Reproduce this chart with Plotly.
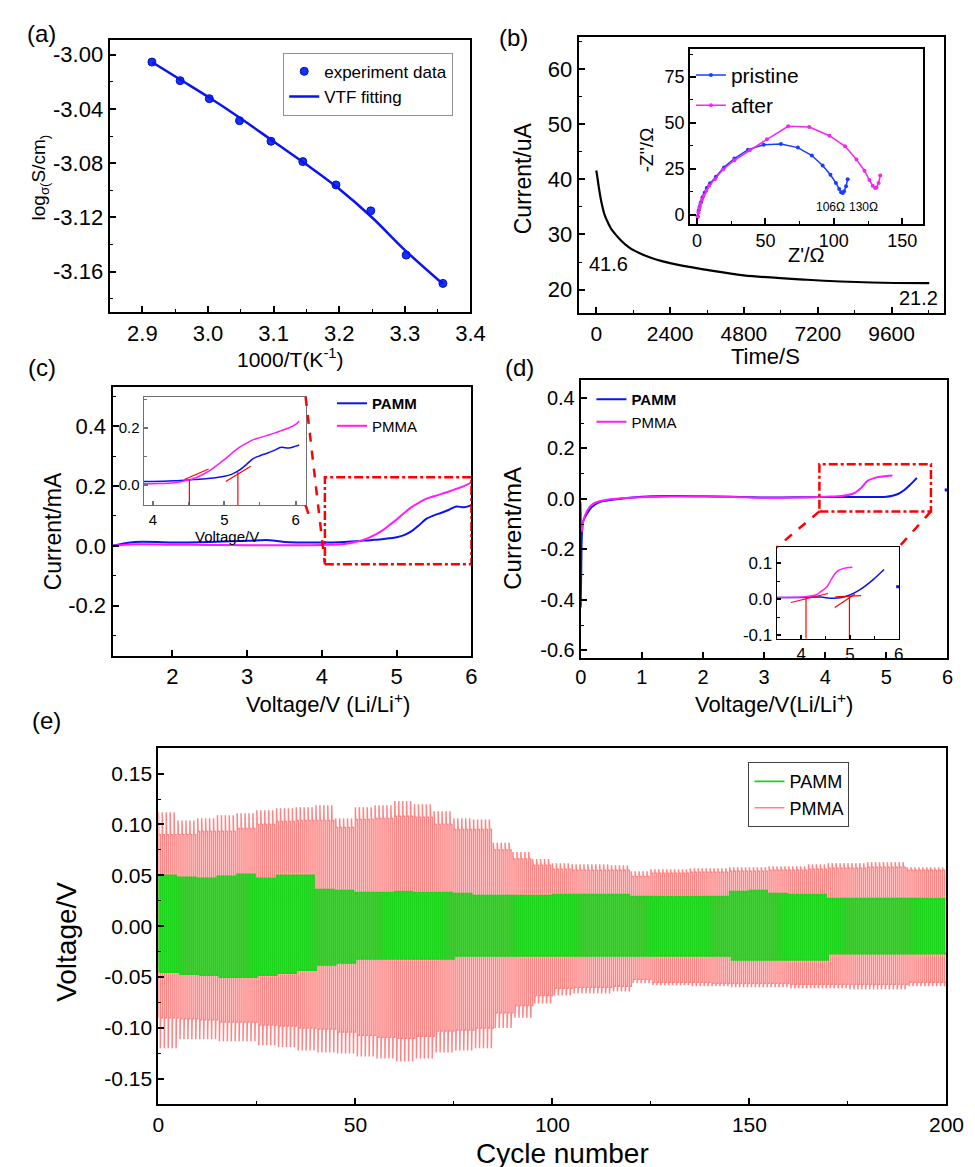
import plotly.graph_objects as go

FONT = "Liberation Sans, Arial, sans-serif"
W, H = 975, 1167

# ---------------- (a) conductivity vs 1000/T ----------------
a_inv_T = [2.9145, 2.9575, 3.002, 3.048, 3.096, 3.1445, 3.195, 3.248, 3.302, 3.358]
a_log_sigma = [-3.0054, -3.0191, -3.0324, -3.0486, -3.0638, -3.0788, -3.0960, -3.1151, -3.1477, -3.1686]
a_fit_inv_T = [2.915, 2.96, 3.0, 3.05, 3.1, 3.15, 3.2, 3.25, 3.3, 3.358]
a_fit_log_sigma = [-3.0055, -3.019, -3.031, -3.047, -3.064, -3.081, -3.099, -3.120, -3.144, -3.169]
a_xticks = [2.9, 3.0, 3.1, 3.2, 3.3, 3.4]
a_xticktext = ["2.9", "3.0", "3.1", "3.2", "3.3", "3.4"]
a_yticks = [-3.16, -3.12, -3.08, -3.04, -3.00]
a_yticktext = ["-3.16", "-3.12", "-3.08", "-3.04", "-3.00"]

# ---------------- (b) chronoamperometry + EIS inset ----------------
b_time = [0, 21, 84, 158, 263, 400, 526, 1053, 1580, 2400, 3685, 4790, 6845, 8950, 10825]
b_current = [41.6, 40.9, 38.5, 36.1, 33.7, 31.9, 30.7, 27.7, 26.2, 24.8, 23.5, 22.6, 21.8, 21.3, 21.2]
b_xticks = [0, 2400, 4800, 7200, 9600]
b_yticks = [20, 30, 40, 50, 60]
b_pristine_re = [0.5, 1.2, 1.9, 2.9, 4.0, 5.5, 7.1, 9.5, 13.8, 19.7, 27.3, 37.3, 48.7, 61.3, 73.7,
                 83.9, 91.8, 97.5, 101.5, 103.9, 105.3, 106.5, 107.5, 108.9, 110.1]
b_pristine_im = [-0.9, 2.2, 4.3, 6.7, 9.4, 11.9, 14.5, 17.0, 20.6, 25.7, 30.5, 35.4, 38.1, 38.5, 36.5,
                 32.2, 26.8, 21.7, 17.2, 13.9, 12.1, 11.7, 12.7, 15.4, 19.3]
b_after_re = [0.5, 1.0, 1.7, 2.4, 3.6, 4.8, 6.7, 8.8, 13.1, 19.0, 27.3, 38.5, 51.1, 66.6, 82.0,
              96.8, 108.2, 116.5, 122.4, 126.0, 128.4, 130.1, 131.2, 132.7, 133.9]
b_after_im = [-1.4, 1.3, 3.6, 5.8, 8.0, 10.3, 13.0, 15.7, 19.3, 24.6, 29.6, 35.1, 41.0, 48.1, 47.7,
              43.0, 37.2, 30.0, 23.9, 18.8, 15.7, 14.5, 14.8, 17.2, 21.3]
b_inset_xticks = [0, 50, 100, 150]
b_inset_yticks = [0, 25, 50, 75]

# ---------------- (c) LSV ----------------
c_voltage = [1.2, 1.5, 2.0, 2.5, 3.0, 3.3, 3.5, 4.0, 4.3, 4.5, 4.6, 4.7, 4.8, 4.9, 5.0, 5.1, 5.2,
             5.3, 5.4, 5.5, 5.6, 5.7, 5.8, 5.9, 6.0, 6.05]
c_pamm = [0.0, 0.013, 0.011, 0.013, 0.017, 0.019, 0.013, 0.011, 0.013, 0.016, 0.018, 0.020, 0.022,
          0.025, 0.029, 0.036, 0.049, 0.069, 0.091, 0.102, 0.111, 0.121, 0.132, 0.129, 0.136, 0.140]
c_pmma = [0.0, 0.005, 0.004, 0.003, 0.002, 0.002, 0.002, 0.003, 0.006, 0.016, 0.024, 0.036, 0.050,
          0.069, 0.088, 0.110, 0.130, 0.145, 0.158, 0.166, 0.174, 0.182, 0.191, 0.200, 0.213, 0.225]
c_xticks = [2, 3, 4, 5, 6]
c_yticks = [-0.2, 0.0, 0.2, 0.4]
c_yticktext = ["-0.2", "0.0", "0.2", "0.4"]
c_inset_xticks = [4, 5, 6]
c_inset_yticks = [0.0, 0.2]
c_inset_yticktext = ["0.0", "0.2"]
c_onset_pmma_tan_x = [4.44, 4.78]
c_onset_pmma_tan_y = [0.018, 0.055]
c_onset_pmma_v_x = [4.51, 4.51]
c_onset_pmma_v_y = [0.02, -0.074]
c_onset_pamm_tan_x = [5.02, 5.37]
c_onset_pamm_tan_y = [0.011, 0.065]
c_onset_pamm_v_x = [5.19, 5.19]
c_onset_pamm_v_y = [0.044, -0.074]
c_zoom_x = [4.04, 6.0]
c_zoom_y = [-0.062, 0.23]

# ---------------- (d) full-range sweep ----------------
d_pamm_v = [0.0, 0.01, 0.02, 0.04, 0.1, 0.18, 0.31, 0.52, 1.0, 1.5, 2.0, 2.5, 3.0, 3.5, 4.0, 4.5,
            5.0, 5.1, 5.2, 5.3, 5.4, 5.5]
d_pamm_i = [-0.43, -0.27, -0.14, -0.09, -0.06, -0.033, -0.013, -0.004, 0.008, 0.011, 0.010, 0.008,
            0.005, 0.006, 0.007, 0.007, 0.008, 0.012, 0.020, 0.036, 0.058, 0.083]
d_pmma_v = [0.0, 0.02, 0.04, 0.1, 0.2, 0.4, 1.0, 1.5, 2.0, 2.5, 3.0, 3.5, 4.0, 4.3, 4.45, 4.5, 4.6,
            4.7, 4.85, 5.0, 5.1]
d_pmma_i = [-0.015, -0.13, -0.09, -0.05, -0.02, -0.005, 0.006, 0.009, 0.009, 0.007, 0.004, 0.005,
            0.008, 0.012, 0.02, 0.026, 0.046, 0.072, 0.085, 0.09, 0.092]
d_stray_v = [5.98]
d_stray_i = [0.035]
d_xticks = [0, 1, 2, 3, 4, 5, 6]
d_yticks = [-0.6, -0.4, -0.2, 0.0, 0.2, 0.4]
d_yticktext = ["-0.6", "-0.4", "-0.2", "0.0", "0.2", "0.4"]
d_in_pamm_v = [3.5, 4.0, 4.4, 4.6, 4.8, 5.0, 5.2, 5.47, 5.7]
d_in_pamm_i = [0.005, 0.005, 0.006, 0.003, 0.004, 0.012, 0.026, 0.054, 0.083]
d_in_pmma_v = [3.5, 4.0, 4.3, 4.4, 4.53, 4.63, 4.73, 4.87, 5.05]
d_in_pmma_i = [0.005, 0.006, 0.012, 0.021, 0.035, 0.058, 0.077, 0.086, 0.089]
d_inset_xticks = [4, 5, 6]
d_inset_yticks = [-0.1, 0.0, 0.1]
d_inset_yticktext = ["-0.1", "0.0", "0.1"]
d_onset_lines = [  # (x pair, y pair)
    ([3.79, 4.55], [-0.009, 0.016]),
    ([4.10, 4.10], [0.007, -0.11]),
    ([4.69, 5.10], [-0.023, 0.014]),
    ([4.70, 5.23], [0.0065, 0.010]),
    ([4.99, 4.99], [0.008, -0.11]),
]
d_zoom_x = [3.905, 5.73]
d_zoom_y = [-0.05, 0.137]

# ---------------- (e) Li symmetric cycling (envelopes per 5-cycle block) ----------------
N_CYCLES = 200
BLOCK = 5
pmma_peak_hi = [0.112, 0.104, 0.106, 0.109, 0.111, 0.114, 0.116, 0.117, 0.119, 0.106,
                0.117, 0.119, 0.123, 0.120, 0.113, 0.106, 0.105, 0.082, 0.073, 0.066,
                0.062, 0.061, 0.061, 0.060, 0.054, 0.056, 0.056, 0.057, 0.057, 0.058,
                0.058, 0.059, 0.059, 0.061, 0.062, 0.062, 0.063, 0.063, 0.058, 0.058]
pmma_plat_hi = [0.090, 0.090, 0.093, 0.093, 0.096, 0.100, 0.103, 0.104, 0.104, 0.097,
                0.105, 0.106, 0.108, 0.107, 0.100, 0.095, 0.095, 0.075, 0.066, 0.060,
                0.056, 0.055, 0.055, 0.055, 0.049, 0.052, 0.052, 0.053, 0.053, 0.054,
                0.054, 0.055, 0.055, 0.056, 0.057, 0.057, 0.058, 0.058, 0.055, 0.055]
pmma_peak_lo = [-0.120, -0.111, -0.111, -0.113, -0.113, -0.117, -0.119, -0.122, -0.124, -0.125,
                -0.128, -0.130, -0.133, -0.130, -0.124, -0.122, -0.120, -0.100, -0.090, -0.076,
                -0.068, -0.066, -0.066, -0.064, -0.056, -0.058, -0.058, -0.059, -0.059, -0.060,
                -0.060, -0.060, -0.061, -0.061, -0.061, -0.062, -0.062, -0.062, -0.059, -0.059]
pmma_plat_lo = [-0.090, -0.091, -0.092, -0.094, -0.094, -0.097, -0.098, -0.100, -0.101, -0.104,
                -0.107, -0.109, -0.110, -0.108, -0.103, -0.102, -0.100, -0.085, -0.078, -0.068,
                -0.061, -0.060, -0.060, -0.059, -0.052, -0.055, -0.055, -0.055, -0.056, -0.056,
                -0.056, -0.056, -0.057, -0.057, -0.057, -0.057, -0.057, -0.057, -0.055, -0.055]
pamm_hi = [0.050, 0.048, 0.047, 0.049, 0.051, 0.047, 0.050, 0.050, 0.036, 0.035,
           0.033, 0.033, 0.034, 0.033, 0.033, 0.032, 0.030, 0.030, 0.030, 0.030,
           0.031, 0.031, 0.031, 0.031, 0.029, 0.029, 0.029, 0.029, 0.029, 0.034,
           0.035, 0.032, 0.031, 0.031, 0.027, 0.027, 0.027, 0.027, 0.027, 0.027]
pamm_lo = [-0.045, -0.047, -0.048, -0.050, -0.050, -0.048, -0.046, -0.043, -0.038, -0.036,
           -0.032, -0.032, -0.032, -0.032, -0.032, -0.029, -0.029, -0.029, -0.029, -0.029,
           -0.029, -0.029, -0.029, -0.029, -0.029, -0.029, -0.029, -0.029, -0.029, -0.033,
           -0.033, -0.033, -0.033, -0.033, -0.027, -0.027, -0.027, -0.027, -0.027, -0.027]
e_xticks = [0, 50, 100, 150, 200]
e_yticks = [-0.15, -0.10, -0.05, 0.0, 0.05, 0.10, 0.15]
e_yticktext = ["-0.15", "-0.10", "-0.05", "0.00", "0.05", "0.10", "0.15"]


# ---------------- helpers ----------------
def dom_x(p0, p1):
    return [p0 / W, p1 / W]


def dom_y(p0, p1):
    return [1 - p1 / H, 1 - p0 / H]


def to_paper(v, rng, dom):
    return dom[0] + (v - rng[0]) / (rng[1] - rng[0]) * (dom[1] - dom[0])


def square_wave(peak_hi, plat_hi, peak_lo, plat_lo):
    xs, ys = [], []
    prev = plat_lo[0]
    for c in range(N_CYCLES):
        b = c // BLOCK
        xs += [c, c, c + 0.08, c + 0.5, c + 0.5, c + 0.58, c + 1]
        ys += [prev, peak_hi[b], plat_hi[b], plat_hi[b], peak_lo[b], plat_lo[b], plat_lo[b]]
        prev = plat_lo[b]
    return xs, ys


def axis(domain, rng, anchor, tickvals, ticktext=None, size=20, minor=None,
         lw=2, lc="black", ticklen=6):
    d = dict(domain=domain, range=rng, anchor=anchor, tickmode="array", tickvals=tickvals,
             ticktext=ticktext if ticktext is not None else [str(t) for t in tickvals],
             ticks="inside", ticklen=ticklen, tickwidth=1.5, tickcolor=lc,
             showline=True, linecolor=lc, linewidth=lw, mirror=True,
             showgrid=False, zeroline=False,
             tickfont=dict(size=size, color="black", family=FONT))
    if minor is not None:
        d["minor"] = dict(tick0=minor[0], dtick=minor[1], ticks="inside", ticklen=3,
                          tickwidth=1.2, tickcolor=lc, showgrid=False)
    return d


# domains (pixel boxes)
A_X, A_Y = dom_x(98, 468), dom_y(32, 306)
B_X, B_Y = dom_x(579, 953), dom_y(29, 307)
BI_X, BI_Y = dom_x(693, 932), dom_y(41, 217)
C_X, C_Y = dom_x(101, 469), dom_y(381, 651)
CI_X, CI_Y = dom_x(133, 299), dom_y(391, 500)
D_X, D_Y = dom_x(581, 957), dom_y(374, 653)
DI_X, DI_Y = dom_x(782, 907), dom_y(542, 634)
E_X, E_Y = dom_x(148, 956), dom_y(744, 1102)

A_XR, A_YR = [2.85, 3.4], [-3.19, -2.989]
B_XR, B_YR = [-570, 11290], [15.7, 65.8]
BI_XR, BI_YR = [-5.2, 165.2], [-5.1, 90.4]
C_XR, C_YR = [1.2, 6.0], [-0.368, 0.532]
CI_XR, CI_YR = [3.87, 6.14], [-0.074, 0.31]
D_XR, D_YR = [0, 6], [-0.629, 0.47]
DI_XR, DI_YR = [3.5, 6.0], [-0.11, 0.145]
E_XR, E_YR = [0, 200], [-0.175, 0.175]

BLUE = "#0A14F0"
MAG = "#FF1AFF"

fig = go.Figure()

# (a)
fig.add_trace(go.Scatter(x=a_inv_T, y=a_log_sigma, mode="markers", name="experiment data",
                         marker=dict(color="#1530FF", size=8, line=dict(color="#0010B0", width=1)),
                         xaxis="x", yaxis="y", legend="legend"))
fig.add_trace(go.Scatter(x=a_fit_inv_T, y=a_fit_log_sigma, mode="lines", name="VTF fitting",
                         line=dict(color="#0A14F0", width=2.5, shape="spline"),
                         xaxis="x", yaxis="y", legend="legend"))

# (b)
fig.add_trace(go.Scatter(x=b_time, y=b_current, mode="lines", showlegend=False,
                         line=dict(color="black", width=2.2, shape="spline"),
                         xaxis="x2", yaxis="y2"))
fig.add_trace(go.Scatter(x=b_pristine_re, y=b_pristine_im, mode="lines+markers", name="pristine",
                         line=dict(color="#1A3CFF", width=1.5), marker=dict(size=4, color="#1A3CFF"),
                         xaxis="x3", yaxis="y3", legend="legend2"))
fig.add_trace(go.Scatter(x=b_after_re, y=b_after_im, mode="lines+markers", name="after",
                         line=dict(color="#F028F0", width=1.5), marker=dict(size=4, color="#F028F0"),
                         xaxis="x3", yaxis="y3", legend="legend2"))

# (c)
fig.add_trace(go.Scatter(x=c_voltage, y=c_pamm, mode="lines", name="<b>PAMM</b>",
                         line=dict(color=BLUE, width=2, shape="spline"),
                         xaxis="x4", yaxis="y4", legend="legend3"))
fig.add_trace(go.Scatter(x=c_voltage, y=c_pmma, mode="lines", name="PMMA",
                         line=dict(color=MAG, width=2, shape="spline"),
                         xaxis="x4", yaxis="y4", legend="legend3"))
fig.add_trace(go.Scatter(x=c_voltage, y=c_pamm, mode="lines", showlegend=False,
                         line=dict(color=BLUE, width=1.5, shape="spline"), xaxis="x5", yaxis="y5"))
fig.add_trace(go.Scatter(x=c_voltage, y=c_pmma, mode="lines", showlegend=False,
                         line=dict(color=MAG, width=1.5, shape="spline"), xaxis="x5", yaxis="y5"))
for lx, ly in [(c_onset_pmma_tan_x, c_onset_pmma_tan_y), (c_onset_pmma_v_x, c_onset_pmma_v_y),
               (c_onset_pamm_tan_x, c_onset_pamm_tan_y), (c_onset_pamm_v_x, c_onset_pamm_v_y)]:
    fig.add_trace(go.Scatter(x=lx, y=ly, mode="lines", showlegend=False,
                             line=dict(color="red", width=1.2), xaxis="x5", yaxis="y5"))

# (d)
fig.add_trace(go.Scatter(x=d_pamm_v, y=d_pamm_i, mode="lines", name="<b>PAMM</b>",
                         line=dict(color=BLUE, width=2, shape="spline"),
                         xaxis="x6", yaxis="y6", legend="legend4"))
fig.add_trace(go.Scatter(x=d_pmma_v, y=d_pmma_i, mode="lines", name="PMMA",
                         line=dict(color=MAG, width=2, shape="spline"),
                         xaxis="x6", yaxis="y6", legend="legend4"))
fig.add_trace(go.Scatter(x=d_stray_v, y=d_stray_i, mode="markers", showlegend=False,
                         marker=dict(color=BLUE, size=3, symbol="square"), xaxis="x6", yaxis="y6",
                         cliponaxis=False))
fig.add_trace(go.Scatter(x=d_in_pamm_v, y=d_in_pamm_i, mode="lines", showlegend=False,
                         line=dict(color=BLUE, width=1.5, shape="spline"), xaxis="x7", yaxis="y7"))
fig.add_trace(go.Scatter(x=d_in_pmma_v, y=d_in_pmma_i, mode="lines", showlegend=False,
                         line=dict(color=MAG, width=1.5, shape="spline"), xaxis="x7", yaxis="y7"))
fig.add_trace(go.Scatter(x=d_stray_v, y=d_stray_i, mode="markers", showlegend=False,
                         marker=dict(color=BLUE, size=3, symbol="square"), xaxis="x7", yaxis="y7",
                         cliponaxis=False))
for lx, ly in d_onset_lines:
    fig.add_trace(go.Scatter(x=lx, y=ly, mode="lines", showlegend=False,
                             line=dict(color="red", width=1.2), xaxis="x7", yaxis="y7"))

# (e)
ex_pmma, ey_pmma = square_wave(pmma_peak_hi, pmma_plat_hi, pmma_peak_lo, pmma_plat_lo)
ex_pamm, ey_pamm = square_wave(pamm_hi, pamm_hi, pamm_lo, pamm_lo)
fig.add_trace(go.Scatter(x=ex_pmma, y=ey_pmma, mode="lines", name="PMMA", legendrank=2,
                         line=dict(color="#FF8585", width=1.5),
                         xaxis="x8", yaxis="y8", legend="legend5"))
fig.add_trace(go.Scatter(x=ex_pamm, y=ey_pamm, mode="lines", name="PAMM", legendrank=1,
                         line=dict(color="#1CD41C", width=1.8),
                         xaxis="x8", yaxis="y8", legend="legend5"))

# ---------------- layout ----------------
layout = dict(
    width=W, height=H, autosize=False, margin=dict(l=0, r=0, t=0, b=0),
    paper_bgcolor="white", plot_bgcolor="white",
    font=dict(family=FONT, color="black"),
    xaxis=axis(A_X, A_XR, "y", a_xticks, a_xticktext, 22, (2.85, 0.05)),
    yaxis=axis(A_Y, A_YR, "x", a_yticks, a_yticktext, 22, (-3.0, 0.02)),
    xaxis2=axis(B_X, B_XR, "y2", b_xticks, None, 21, (0, 1200)),
    yaxis2=axis(B_Y, B_YR, "x2", b_yticks, None, 22, (20, 5)),
    xaxis3=axis(BI_X, BI_XR, "y3", b_inset_xticks, None, 18, (0, 25), lw=1.5),
    yaxis3=axis(BI_Y, BI_YR, "x3", b_inset_yticks, None, 18, (0, 12.5), lw=1.5),
    xaxis4=axis(C_X, C_XR, "y4", c_xticks, None, 22),
    yaxis4=axis(C_Y, C_YR, "x4", c_yticks, c_yticktext, 22, (0, 0.1)),
    xaxis5=axis(CI_X, CI_XR, "y5", c_inset_xticks, None, 15, (4, 0.5), lw=1.2, lc="#707070", ticklen=4),
    yaxis5=axis(CI_Y, CI_YR, "x5", c_inset_yticks, c_inset_yticktext, 15, (0, 0.1), lw=1.2, lc="#707070", ticklen=4),
    xaxis6=axis(D_X, D_XR, "y6", d_xticks, None, 20),
    yaxis6=axis(D_Y, D_YR, "x6", d_yticks, d_yticktext, 20, (0, 0.1)),
    xaxis7=axis(DI_X, DI_XR, "y7", d_inset_xticks, None, 17, (4, 0.5), lw=1.2, ticklen=4),
    yaxis7=axis(DI_Y, DI_YR, "x7", d_inset_yticks, d_inset_yticktext, 17, (0, 0.05), lw=1.2, ticklen=4),
    xaxis8=axis(E_X, E_XR, "y8", e_xticks, None, 21, (0, 25)),
    yaxis8=axis(E_Y, E_YR, "x8", e_yticks, e_yticktext, 21, (0, 0.025)),
    legend=dict(x=276 / W, y=1 - 45 / H, xanchor="left", yanchor="top", bgcolor="white",
                bordercolor="#909090", borderwidth=1, font=dict(size=17, family=FONT),
                tracegroupgap=0, itemwidth=30),
    legend2=dict(x=694 / W, y=1 - 47 / H, xanchor="left", yanchor="top", bgcolor="rgba(0,0,0,0)",
                 borderwidth=0, font=dict(size=21, family=FONT), tracegroupgap=0, itemwidth=30),
    legend3=dict(x=326 / W, y=1 - 381 / H, xanchor="left", yanchor="top", bgcolor="rgba(0,0,0,0)",
                 borderwidth=0, font=dict(size=15, family=FONT), tracegroupgap=0, itemwidth=30),
    legend4=dict(x=592 / W, y=1 - 377 / H, xanchor="left", yanchor="top", bgcolor="rgba(0,0,0,0)",
                 borderwidth=0, font=dict(size=15, family=FONT), tracegroupgap=0, itemwidth=30),
    legend5=dict(x=753 / W, y=1 - 758 / H, xanchor="left", yanchor="top", bgcolor="white",
                 bordercolor="#404040", borderwidth=1, font=dict(size=18, family=FONT),
                 tracegroupgap=0, itemwidth=30, traceorder="normal"),
)
fig.update_layout(**layout)


def txt(text, px, py, size, angle=0, xanchor="center", yanchor="middle"):
    return dict(text=text, x=px / W, y=1 - py / H, xref="paper", yref="paper", showarrow=False,
                textangle=angle, xanchor=xanchor, yanchor=yanchor,
                font=dict(size=size, family=FONT, color="black"))


annotations = [
    txt("(a)", 28, 26, 24), txt("(b)", 512, 30, 24), txt("(c)", 29, 361, 24),
    txt("(d)", 518, 361, 24), txt("(e)", 33, 716, 24),
    txt("log<sub>σ(</sub>S/cm<sub>)</sub>", 27, 170, 19, -90),
    txt("1000/T(K<sup>-1</sup>)", 283, 352, 21),
    txt("Current/uA", 522, 171, 23, -90),
    txt("Time/S", 770, 350, 22),
    txt("-Z''/Ω", 648, 143, 19, -90),
    txt("Z'/Ω", 813, 248, 20),
    txt("41.6", 610, 257, 20), txt("21.2", 927, 292, 20),
    txt("106Ω", 837, 200, 12), txt("130Ω", 871, 200, 12),
    txt("Current/mA", 40, 526, 23, -90),
    txt("Voltage/V (Li/Li<sup>+</sup>)", 322, 699, 22),
    txt("Voltage/V", 218, 531, 15),
    txt("Current/mA", 511, 523, 24, -90),
    txt("Voltage/V(Li/Li<sup>+</sup>)", 779, 699, 22),
    txt("Voltage/V", 53, 939, 28, -90),
    txt("Cycle number", 562, 1151, 28),
]
fig.update_layout(annotations=annotations)

RED = "red"
shapes = [
    dict(type="rect", xref="x4", yref="y4", x0=c_zoom_x[0], x1=c_zoom_x[1], y0=c_zoom_y[0],
         y1=c_zoom_y[1], line=dict(color=RED, width=2.5, dash="dashdot")),
    dict(type="rect", xref="x6", yref="y6", x0=d_zoom_x[0], x1=d_zoom_x[1], y0=d_zoom_y[0],
         y1=d_zoom_y[1], line=dict(color=RED, width=2.5, dash="dashdot")),
]
# connectors (c): inset right corners -> zoom box bottom-left
cbx = to_paper(c_zoom_x[0], C_XR, C_X)
cby = to_paper(c_zoom_y[0], C_YR, C_Y)
shapes.append(dict(type="line", xref="paper", yref="paper", x0=CI_X[1], y0=CI_Y[1], x1=cbx, y1=cby,
                   line=dict(color=RED, width=2.5, dash="dash")))
shapes.append(dict(type="line", xref="paper", yref="paper", x0=CI_X[1], y0=CI_Y[0],
                   x1=CI_X[1] + (cbx - CI_X[1]) * 0.25, y1=CI_Y[0] + (cby - CI_Y[0]) * 0.25,
                   line=dict(color=RED, width=2.5, dash="dash")))
# connectors (d): zoom box bottom corners -> inset top corners
dby = to_paper(d_zoom_y[0], D_YR, D_Y)
for xv, ix in [(d_zoom_x[0], DI_X[0]), (d_zoom_x[1], DI_X[1])]:
    shapes.append(dict(type="line", xref="paper", yref="paper",
                       x0=to_paper(xv, D_XR, D_X), y0=dby, x1=ix, y1=DI_Y[1],
                       line=dict(color=RED, width=2.5, dash="dash")))
fig.update_layout(shapes=shapes)

fig.write_html("out.html")
